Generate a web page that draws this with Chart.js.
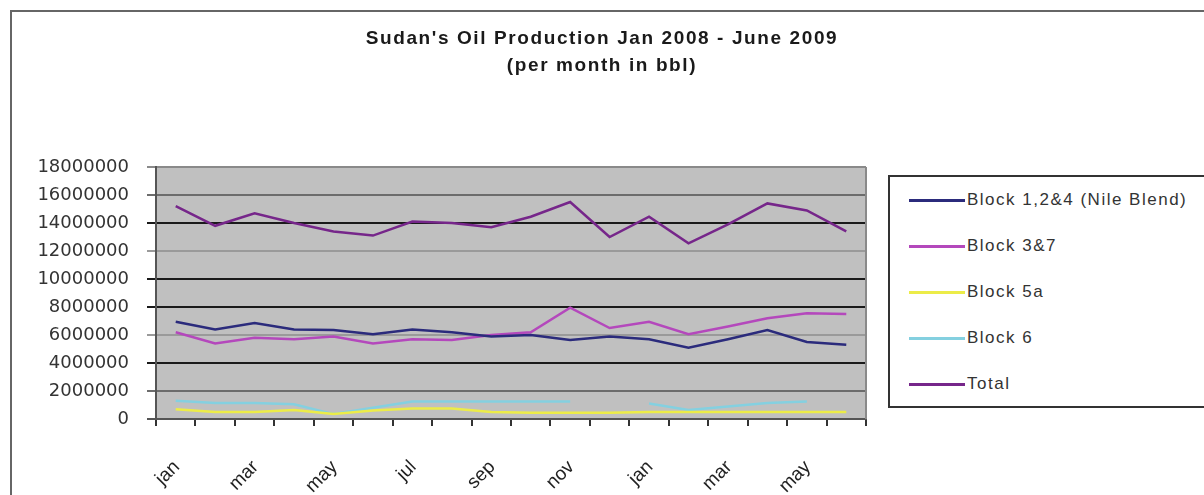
<!DOCTYPE html>
<html>
<head>
<meta charset="utf-8">
<script src="https://cdn.jsdelivr.net/npm/chart.js@4"></script>
<style>
  html, body { margin: 0; padding: 0; background: #fff; }
  #wrap { position: relative; width: 1204px; height: 495px; overflow: hidden; font-family: "Liberation Sans", Arial, sans-serif; color: #222; }
  #frame { position: absolute; left: 10px; top: 10px; width: 1400px; height: 700px; border: 2px solid #666; }
  #chart { position: absolute; left: 0; top: 0; }
  #title { position: absolute; left: 302px; width: 600px; top: 24px; text-align: center; font-weight: bold; font-size: 19px; line-height: 27px; letter-spacing: 1.6px; color: #1a1a1a; }
  #legend { position: absolute; left: 888px; top: 175px; width: 500px; height: 229px; border: 2px solid #333; background: #fff; }
  .item { position: relative; height: 46px; }
  .item .swatch { position: absolute; left: 19px; top: 22px; width: 56px; height: 3px; }
  .item .label { position: absolute; left: 77px; top: 12px; font-size: 17px; letter-spacing: 1.5px; line-height: 22px; color: #333; }
</style>
</head>
<body>
<div id="wrap">
  <div id="frame"></div>
  <canvas id="chart" width="1204" height="495"></canvas>
  <div id="title">Sudan's Oil Production Jan 2008 - June 2009<br>(per month in bbl)</div>
  <div id="legend"></div>
</div>
<script>
// months Jan 2008 - June 2009
const months = ['jan', 'feb', 'mar', 'apr', 'may', 'jun', 'jul', 'aug', 'sep', 'oct', 'nov', 'dec',
                'jan', 'feb', 'mar', 'apr', 'may', 'jun'];

const seriesNames = ['Block 1,2&4 (Nile Blend)', 'Block 3&7', 'Block 5a', 'Block 6', 'Total'];

const block124 = [6950000, 6400000, 6850000, 6400000, 6350000, 6050000, 6400000, 6200000, 5900000,
                  6000000, 5650000, 5900000, 5700000, 5100000, 5700000, 6350000, 5500000, 5300000];
const block37  = [6200000, 5400000, 5800000, 5700000, 5900000, 5400000, 5700000, 5650000, 6000000,
                  6200000, 7950000, 6500000, 6950000, 6050000, 6600000, 7200000, 7550000, 7500000];
const block5a  = [700000, 500000, 500000, 650000, 350000, 600000, 750000, 750000, 500000,
                  450000, 450000, 450000, 500000, 500000, 500000, 500000, 500000, 500000];
const block6   = [1300000, 1150000, 1150000, 1050000, 350000, 800000, 1250000, 1250000, 1250000,
                  1250000, 1250000, null, 1100000, 650000, 900000, 1150000, 1250000, null];
const total    = [15200000, 13800000, 14700000, 14000000, 13400000, 13100000, 14100000, 14000000, 13700000,
                  14450000, 15500000, 13000000, 14450000, 12550000, 13900000, 15400000, 14900000, 13400000];

const seriesValues = [block124, block37, block5a, block6, total];
const seriesColors = ['#2b2b7c', '#b448bc', '#ecec48', '#84d0e0', '#76268a'];

// alternating grid shades as in the scanned picture
const gridShades = {
  0: '#555', 2000000: '#6c6c6c', 4000000: '#1a1a1a', 6000000: '#9a9a9a', 8000000: '#1a1a1a',
  10000000: '#1a1a1a', 12000000: '#9a9a9a', 14000000: '#1a1a1a', 16000000: '#6c6c6c', 18000000: '#8a8a8a'
};

const plotBackground = {
  id: 'plotBackground',
  beforeDraw(chart) {
    const { ctx, chartArea: a } = chart;
    ctx.save();
    ctx.fillStyle = '#c0c0c0';
    ctx.fillRect(a.left, a.top, a.right - a.left, a.bottom - a.top);
    ctx.restore();
  },
  afterDraw(chart) {
    const { ctx, chartArea: a } = chart;
    ctx.save();
    ctx.strokeStyle = '#8a8a8a';
    ctx.lineWidth = 2;
    ctx.beginPath();
    ctx.moveTo(a.right, a.top);
    ctx.lineTo(a.right, a.bottom);
    ctx.stroke();
    ctx.restore();
  }
};

new Chart(document.getElementById('chart'), {
  type: 'line',
  data: {
    labels: months,
    datasets: seriesNames.map((name, i) => ({
      label: name,
      data: seriesValues[i],
      borderColor: seriesColors[i],
      backgroundColor: seriesColors[i],
      borderWidth: 2.5,
      pointRadius: 0,
      tension: 0,
      spanGaps: false
    }))
  },
  options: {
    responsive: false,
    devicePixelRatio: 1,
    animation: false,
    layout: { padding: { top: 167, right: 338, left: 0, bottom: 0 } },
    plugins: {
      legend: { display: false },
      title: { display: false },
      tooltip: { enabled: false }
    },
    scales: {
      x: {
        offset: true,
        afterFit(scale) { scale.height = 76; },
        grid: { offset: true, drawOnChartArea: false, drawTicks: true, tickLength: 7, color: '#333', lineWidth: 2 },
        border: { color: '#555', width: 2 },
        ticks: {
          autoSkip: false,
          maxRotation: 45,
          minRotation: 45,
          padding: 30,
          labelOffset: 1,
          color: '#222',
          font: { family: '"Liberation Sans", Arial, sans-serif', size: 19 },
          callback: (v, i) => (i % 2 === 0 ? months[i] : '')
        }
      },
      y: {
        min: 0,
        max: 18000000,
        afterFit(scale) { scale.width = 156; },
        grid: {
          color: (c) => gridShades[c.tick.value] || '#333',
          lineWidth: 2,
          tickLength: 9
        },
        border: { color: '#555', width: 2 },
        ticks: {
          stepSize: 2000000,
          padding: 18,
          color: '#333',
          font: { family: '"DejaVu Sans", sans-serif', size: 18 },
          callback: (v) => String(v)
        }
      }
    }
  },
  plugins: [plotBackground]
});

// legend built from the series names and colours
const legend = document.getElementById('legend');
seriesNames.forEach((name, i) => {
  const row = document.createElement('div');
  row.className = 'item';
  row.innerHTML = '<div class="swatch" style="background:' + seriesColors[i] + '"></div>' +
                  '<div class="label"></div>';
  row.querySelector('.label').textContent = name;
  legend.appendChild(row);
});
</script>
</body>
</html>
